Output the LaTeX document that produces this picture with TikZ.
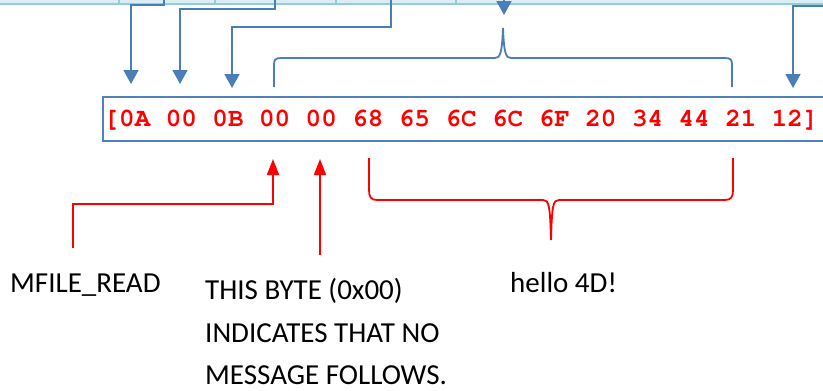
\documentclass[tikz,border=0pt]{standalone}
\usepackage{fontspec}
\setmainfont{Carlito}
\usetikzlibrary{arrows.meta}
\definecolor{linkblue}{HTML}{4A7EBB}
\definecolor{frameblue}{HTML}{4F81BD}
\definecolor{stripfill}{HTML}{DBEEF3}
\definecolor{stripline}{HTML}{92CDDC}
\definecolor{hexred}{HTML}{FF0000}
% Courier (URW) for the byte dump
\newcommand{\hexface}{\fontencoding{T1}\fontfamily{pcr}\fontseries{b}\fontsize{25.9}{30}\selectfont}

\begin{document}
\begin{tikzpicture}[x=1pt,y=-1pt,
  bluelink/.style={draw=linkblue,line width=1.8pt,-{Triangle[width=15pt,length=14pt]}},
  bluebrace/.style={draw=linkblue,line width=1.8pt},
  redlink/.style={draw=hexred,line width=1.8pt,-{Triangle[width=12pt,length=16pt]}},
  redbrace/.style={draw=hexred,line width=1.8pt},
  framebox/.style={draw=frameblue,line width=1.6pt,fill=white},
  hexstyle/.style={anchor=base west,inner sep=0pt,text=hexred,font=\hexface},
  caption/.style={anchor=base west,inner sep=0pt,text=black,text depth=0pt,
    font=\fontsize{29}{34}\selectfont}]

\clip (0,0) rectangle (823,391);
\fill[white] (0,0) rectangle (823,391);

% table strip along the top edge
\fill[stripfill] (0,-2) rectangle (823,4);
\draw[stripline,line width=1.8pt] (0,4) -- (823,4);
\foreach \sx in {119,215,336,456}
  \draw[stripline,line width=1.4pt] (\sx,-2) -- (\sx,4);

% sources at the top edge
\coordinate (src1) at (164,-3);
\coordinate (src2) at (275,-3);
\coordinate (src3) at (391,-3);
\coordinate (src4) at (835,6);
\coordinate (src5) at (504,-10);

% targets above the byte row
\coordinate (tgt1) at (131,84);
\coordinate (tgt2) at (180,84);
\coordinate (tgt3) at (232,88);
\coordinate (tgt4) at (793,88);
\coordinate (tgt5) at (504,15);

% byte row
\draw[framebox] (103,97) rectangle (840,141);
\node[hexstyle] (hex) at (103.5,126) {[0A 00 0B 00 00 68 65 6C 6C 6F 20 34 44 21 12]};

% blue connectors
\draw[bluelink] (src1) -- (164,5) -| (tgt1);
\draw[bluelink] (src2) -- (275,9) -| (tgt2);
\draw[bluelink] (src3) -- (391,27) -| (tgt3);
\draw[bluelink] (src4) -| (tgt4);
\draw[bluelink] (src5) -- (tgt5);

% blue brace over the message bytes
\draw[bluebrace] (274,87) -- (274,65) .. controls (274,60) and (275,58) .. (281,58)
  -- (495,58) .. controls (500,58) and (502,54) .. (503,28)
  .. controls (504,54) and (506,58) .. (511,58)
  -- (725,58) .. controls (731,58) and (732,60) .. (732,65) -- (732,87);

% red brace under the text bytes
\draw[redbrace] (369,158) -- (369,190) .. controls (369,197) and (371,200) .. (377,200)
  -- (543,200) .. controls (549,200) and (550,205) .. (551,240)
  .. controls (552,205) and (553,200) .. (559,200)
  -- (725,200) .. controls (731,200) and (733,197) .. (733,190) -- (733,158);

% captions
\node[caption] (cmd) at (10,292) {MFILE\_READ};
\node[caption] (note1) at (205,299) {THIS BYTE (0x00)};
\node[caption] (note2) at (205,342) {INDICATES THAT NO};
\node[caption] (note3) at (205,384) {MESSAGE FOLLOWS.};
\node[caption] (msg) at (510,292) {hello 4D!};

% red connectors
\coordinate (cmdfoot) at (73,248);
\coordinate (cmdtip) at (273,159);
\coordinate (notefoot) at (320,255);
\coordinate (notetip) at (320,159);
\draw[redlink] (cmdfoot) -- (73,204) -| (cmdtip);
\draw[redlink] (notefoot) -- (notetip);
\end{tikzpicture}
\end{document}
